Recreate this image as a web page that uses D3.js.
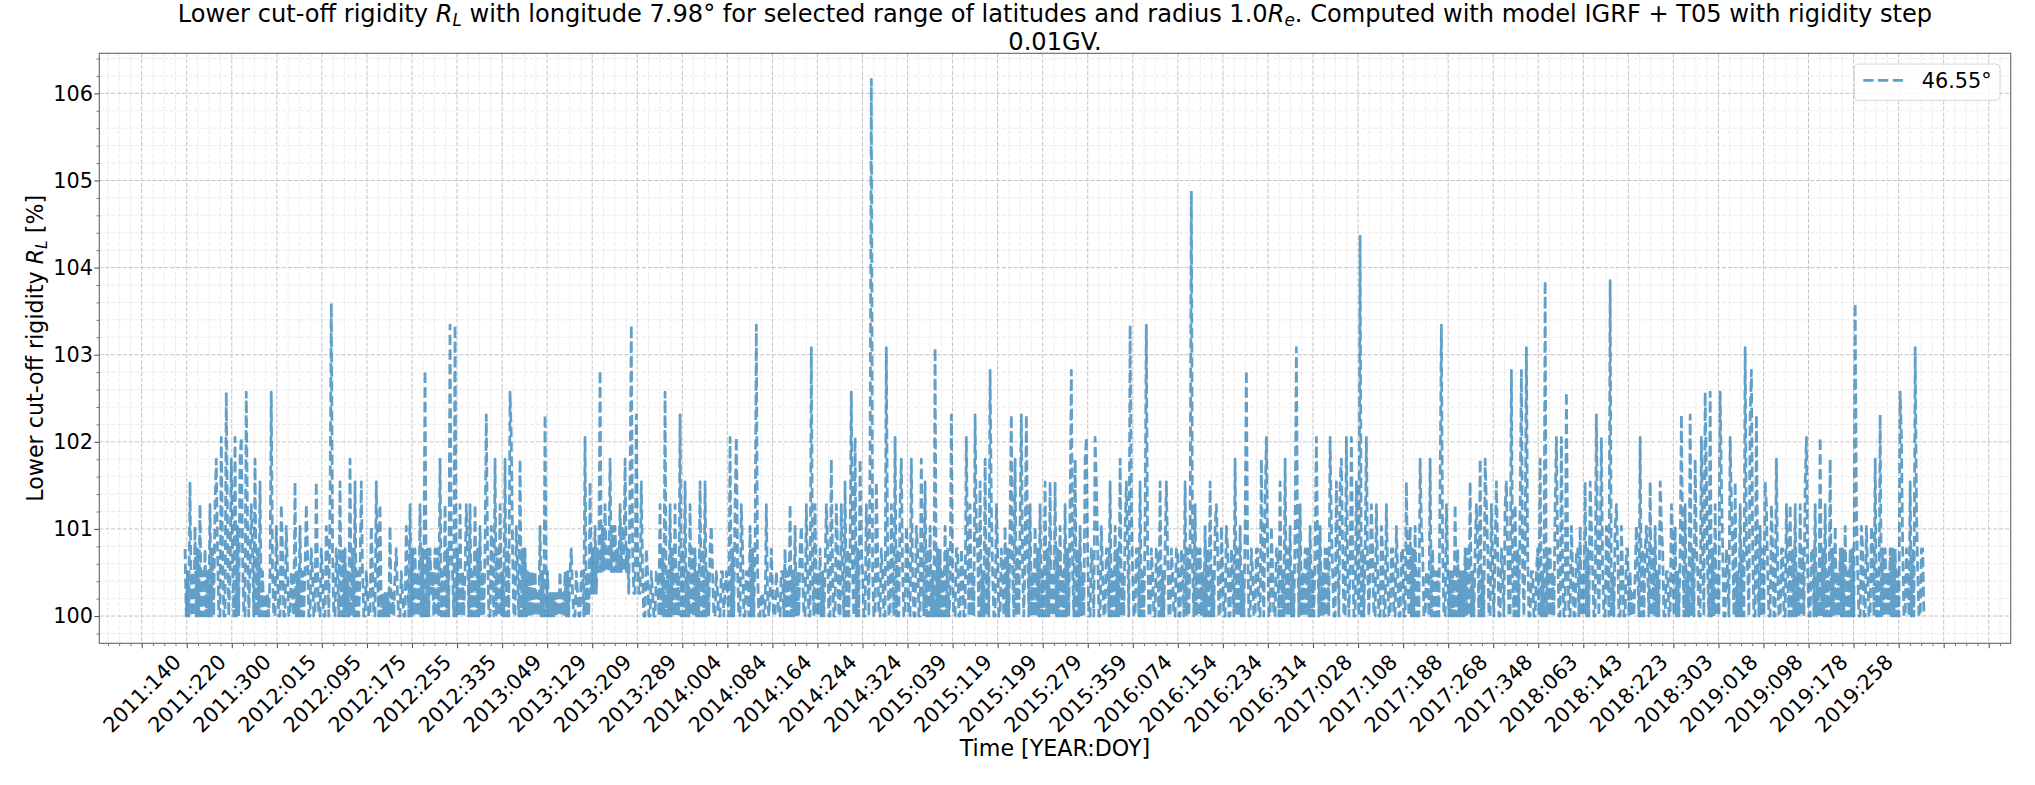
<!DOCTYPE html>
<html><head><meta charset="utf-8">
<script src="https://cdn.jsdelivr.net/npm/d3@7"></script>
<style>
body{margin:0;background:#fff}
svg text{font-family:"DejaVu Sans",sans-serif;fill:#000}
</style>
</head><body>
<svg id="chart" width="2035" height="785"></svg>
<script>
// ---------- data ----------
const tickLabels = ["2011:140","2011:220","2011:300","2012:015","2012:095","2012:175","2012:255","2012:335",
  "2013:049","2013:129","2013:209","2013:289","2014:004","2014:084","2014:164","2014:244","2014:324",
  "2015:039","2015:119","2015:199","2015:279","2015:359","2016:074","2016:154","2016:234","2016:314",
  "2017:028","2017:108","2017:188","2017:268","2017:348","2018:063","2018:143","2018:223","2018:303",
  "2019:018","2019:098","2019:178","2019:258"];
const tickStepDays = 80;          // one labelled tick every 80 days (day 0 = 2011:140)
const lastTickDay = 3280;
const yTicks = [100,101,102,103,104,105,106];
const seriesName = "46.55°";
const startDay = 76.9;            // first sample (days after 2011:140)
const stepDays = 2.22;            // sampling step of the values below

const part1 = [100.77,100,100.51,100, 101.54,100,100.51,100, 101.03,100,100.77,100, 101.28,100,100.51,100,
100.77,100,100.51,100, 101.28,100,100.77,100, 101.28,101.8,100.77,100, 100,102.05,100.77,100,
100,102.57,101.03,100, 100.51,101.8,100.77,100, 102.05,100,101.03,100, 101.8,102.05,100.77,100,
100,102.57,101.03,100, 100.51,101.28,100.77,100, 101.8,100,100.77,100, 101.54,100,100.51,100,
100.26,100,100.26,100, 100.51,102.57,100.51,100, 100,101.03,100.51,100, 100,101.28,100.77,100,
100,101.03,100.51,100, 100,100.51,100.26,100, 101.54,100,100.51,100, 101.03,100,100.51,100,
100.51,101.28,100.77,100, 100,100.77,100.51,100, 100,101.54,100.51,100, 100,100.77,100.51,100,
100,101.03,100.77,100, 101.28,103.59,100.77,100, 100,100.77,100.51,100, 101.54,100,100.77,100,
100.77,100,100.51,100, 101.8,100,100.77,100, 101.54,100,100.51,100, 100.51,101.54,100.51,100,
100,100.51,100.26,100, 100,101.03,100.51,100, 100,101.54,100.51,100, 101.28,100,100.26,100,
100.26,100,100.26,100, 101.03,100,100.26,100, 100.51,100.77,100.26,100, 100,100.51,100.26,100,
100,101.03,100.51,100, 101.28,100,100.77,100, 100.77,100,100.51,100, 101.28,100,100.77,100,
102.82,100,100.77,100, 100.77,100.26,100.51,100, 100.77,100,100.77,100, 101.8,100,100.51,100,
101.28,100,100.77,100, 103.34,100.77,100.51,100, 103.34,100,100.77,100, 101.28,100,100.51,100,
100.51,101.28,100.77,100];
const part2 = [101.28,100,100.51,100, 101.28,100,100.77,100, 101.03,100,100.51,100, 100.77,102.31,100.77,100,
100,101.03,100.51,100, 101.8,100,100.77,100, 101.28,100,100.51,100, 101.8,100,100.77,100,
102.57,102.05,100.77,100, 100,101.03,100.51,100, 101.8,100,100.77,100, 100.77,100,100.51,100,
100.51,100,100.51,100, 100.51,100,100.26,100, 101.03,100,100.51,100, 102.31,100,100.51,100,
100.26,100,100.26,100, 100.26,100,100.26,100, 100.51,100,100.26,100, 100.51,100,100.51,100,
100.51,100.77,100.26,100, 100,100.51,100.26,100, 100,100.51,100.51,100, 102.05,100,100.51,100,
101.54,100.26,100.77,100.26, 101.03,100.26,100.77,100.51, 102.82,100.51,101.03,100.51, 101.28,100.51,100.77,100.51,
101.8,100.51,101.03,100.51, 101.03,100.51,100.77,100.51, 101.28,100.51,101.03,100.51, 101.8,100.51,100.77,100.26,
101.54,103.34,100.77,100.26, 100.26,102.31,100.77,100.26, 100.26,101.54,100.51,100, 100,100.77,100.51,100,
100,100.51,100.26,100, 100,100.51,100.51,100, 101.28,100,100.77,100, 102.57,100,100.51,100,
101.28,100,100.77,100, 101.28,100,100.51,100, 102.31,100,100.77,100, 101.54,100,100.51,100,
101.28,100,100.77,100, 100.77,100,100.51,100, 101.54,100,100.77,100, 101.54,100,100.51,100,
100.77,101.03,100.51,100, 100,100.51,100.26,100, 100,100.51,100.51,100, 100.26,100.51,100.26,100,
102.05,100,100.77,100, 101.28,102.05,100.51,100, 100,101.28,100.77,100, 100,100.51,100.51,100,
101.03,100,100.77,100, 100.77,103.34,100.51,100];
const part3 = [100,100.26,100.26,100, 100,101.28,100.26,100, 100.26,100.77,100.26,100, 100,100.51,100.26,100,
100,100.51,100.51,100, 100.77,100,100.51,100, 101.28,100,100.51,100, 101.03,100,100.51,100,
100.77,101.03,100.51,100, 100,101.28,100.51,100, 100,103.08,100.51,100, 101.28,100,100.51,100,
100.77,100,100.51,100, 100.51,101.28,100.77,100, 100,101.8,100.51,100, 100,101.28,100.77,100,
100,101.28,100.51,100, 101.54,100,100.77,100, 100.77,102.57,100.51,100, 102.05,100,100.77,100,
101.8,100.77,100.51,100, 100,101.28,100.77,100, 101.8,106.16,100.51,100, 100,101.54,100.77,100,
100,100.77,100.51,100, 100,103.08,100.77,100, 100,101.28,100.51,100, 102.05,100,100.77,100,
101.28,101.8,100.51,100, 100,101.03,100.77,100, 100,101.8,100.51,100, 100,101.03,100.77,100,
100,101.8,100.51,100, 101.54,100,100.77,100, 101.03,100,100.51,100, 103.08,100,100.77,100,
100.77,100,100.51,100, 101.03,100,100.77,100, 100.26,102.31,100.51,100, 100,100.77,100.77,100,
100,100.77,100.51,100, 100,102.05,100.77,100, 101.28,100,100.51,100, 102.31,101.03,100.77,100,
101.54,100,100.51,100, 101.8,100,100.77,100, 102.82,101.28,100.51,100, 100,101.28,100.77,100,
100,100.77,100.51,100, 101.03,100,100.77,100, 101.03,102.31,100.51,100, 101.8,100,100.77,100,
101.03,102.31,100.51,100, 100.77,102.31,100.77,100, 101.28,100,100.51,100, 101.03,100,100.77,100,
101.28,100,100.51,100, 101.54,100,100.77,100];
const part4 = [101.54,100,100.51,100, 101.54,100,100.77,100, 101.03,100,100.51,100, 101.28,100,100.77,100,
101.28,102.82,100.51,100, 101.8,100,100.77,100, 101.03,100,100.51,100, 101.8,102.05,100.77,100,
100,100.77,100.51,100, 102.05,101.54,100.77,100, 100,101.03,100.51,100, 100,100.77,100.77,100,
101.54,100,100.51,100, 101.03,100,100.77,100, 101.8,100,100.51,100, 101.03,101.54,100.77,100,
103.34,101.28,100.51,100, 100,100.77,100.77,100, 101.54,100,100.51,100, 101.03,103.34,100.77,100,
100,100.77,100.51,100, 100,100.77,100.77,100, 101.54,100,100.51,100, 100.77,101.54,100.77,100,
100,100.77,100.51,100, 100,100.77,100.77,100, 100,100.77,100.51,100, 101.54,100,100.77,100,
100.77,104.88,100.51,100, 101.28,100,100.77,100, 100.77,100,100.51,100, 101.03,100,100.77,100,
101.54,100,100.51,100, 101.03,101.28,100.77,100, 100,101.03,100.51,100, 100,101.03,100.77,100,
100,100.77,100.51,100, 101.8,100,100.77,100, 101.03,100,100.51,100, 101.03,102.82,100.77,100,
100,100.77,100.51,100, 100,100.77,100.77,100, 100,101.8,100.51,100, 101.28,102.05,100.77,100,
100,101.03,100.51,100, 100,100.77,100.77,100, 101.54,100,100.51,100, 101.8,100,100.77,100,
101.03,100,100.51,100, 101.03,103.08,100.77,100, 101.28,100,100.51,100, 100.77,100,100.77,100,
101.03,100,100.51,100, 100.77,102.05,100.77,100, 101.03,100,100.51,100, 100.77,100,100.77,100,
102.05,101.03,100.51,100, 100,101.54,100.77,100];
const part5 = [101.54,101.8,100.77,100, 100,102.05,100.51,100, 100.51,102.05,100.77,100, 100,101.54,100.51,100,
104.36,100,100.77,100, 100.77,102.05,100.51,100, 100.51,101.28,100.77,100, 100,101.28,100.51,100,
100,101.03,100.77,100, 100,101.28,100.51,100, 100,100.77,100.77,100, 100,101.03,100.51,100,
100,100.77,100.77,100, 100,101.54,100.51,100, 101.03,100,100.77,100, 101.03,100,100.51,100,
101.8,101.03,100.77,100, 100,100.51,100.51,100, 101.8,100,100.77,100, 100.51,100,100.51,100,
101.54,103.34,100.77,100, 100,101.28,100.51,100, 100.51,100,100.51,100, 101.28,100,100.77,100,
100.51,100,100.51,100, 100.77,100,100.77,100, 101.54,100,100.51,100, 100.77,101.28,100.77,100,
101.8,100,100.51,100, 101.8,101.28,100.77,100, 100,101.28,100.51,100, 100.77,101.54,100.77,100,
100,100.77,100.51,100, 101.28,101.54,100.77,100, 100,102.82,100.51,100, 101.28,100,100.77,100,
101.28,102.82,100.51,100, 100.77,103.08,100.77,100, 100,100.51,100.51,100, 100,100.51,100.77,100,
101.8,100,100.51,100, 103.85,100,100.77,100, 100.77,100,100.51,100, 101.28,102.05,100.77,100,
100,102.05,100.51,100, 100,102.57,100.77,100, 100,101.03,100.51,100, 100,100.77,100.77,100,
101.03,100,100.51,100, 101.54,100,100.77,100, 101.54,101.03,100.51,100, 100,102.31,100.77,100,
100.77,102.05,100.51,100, 100,101.03,100.77,100, 103.85,100,100.51,100, 101.03,101.28,100.77,100,
100,101.03,100.51,100, 100,100.77,100.77,100];
const part6 = [100.51,100,100.26,100, 100.51,101.03,100.51,100, 102.05,100,100.77,100, 100.77,101.03,100.51,100,
101.54,100,100.77,100, 101.03,100,100.51,100, 101.54,101.03,100.77,100, 100,100.51,100.51,100,
100,101.28,100.77,100, 101.03,100,100.51,100, 100.77,102.31,100.77,100, 101.28,100,100.51,100,
102.31,100,100.77,100, 101.8,100.77,100.51,100, 100,102.05,100.77,100, 102.57,101.54,100.51,100,
102.57,100,100.77,100, 101.28,100,100.51,100, 102.57,101.54,100.77,100, 100,100.77,100.51,100,
102.05,101.28,100.77,100, 101.54,100,100.51,100, 101.28,100,100.77,100, 103.08,100.77,100.51,100,
102.31,102.82,100.77,100, 100,102.31,100.51,100, 101.03,100,100.77,100, 101.54,101.28,100.51,100,
100,101.28,100.77,100, 100,101.8,100.51,100, 100,100.77,100.77,100, 100,101.28,100.51,100,
101.28,100,100.77,100, 101.28,100,100.51,100, 101.28,100,100.77,100, 101.54,102.05,100.51,100,
100,100.77,100.77,100, 101.28,100,100.51,100, 102.05,100,100.77,100, 101.28,100,100.51,100,
101.8,100,100.77,100, 101.03,100,100.51,100, 100.77,100,100.77,100, 101.03,100,100.51,100,
100.77,100,100.77,100, 103.59,101.28,100.51,100, 100,101.03,100.77,100, 100,101.03,100.51,100,
100,101.03,100.77,100, 101.8,100,100.51,100, 102.31,100,100.77,100, 100.77,100,100.51,100,
100.77,100,100.77,100, 100.77,100,100.51,100, 102.57,102.05,100.77,100, 100,100.77,100.51,100,
101.54,100,100.77,100, 103.08,101.28,100.51,100, 100,100.77,100.77,100];

// ---------- layout ----------
const W = 2035, H = 785;
const plot = {left: 99.3, right: 2010.7, top: 53.3, bottom: 643.3};
const FS = 20.8;        // tick labels, legend
const FS_LABEL = 22.2;  // axis labels
const FS_TITLE = 24.1;  // title
const lineColor = "#1f77b4";

const svg = d3.select("#chart");
svg.append("rect").attr("width", W).attr("height", H).attr("fill", "#fff");

const x = d3.scaleLinear().domain([-75.3, 3319]).range([plot.left, plot.right]);
const y = d3.scaleLinear().domain([99.687, 106.46]).range([plot.bottom, plot.top]);

const majorX = d3.range(0, lastTickDay + 1, tickStepDays);
const minorX = d3.range(-60, 3319, tickStepDays / 4).filter(d => d % tickStepDays !== 0);
const minorY = d3.range(99.8, 106.46, 0.2).map(v => +v.toFixed(1)).filter(v => Math.abs(v - Math.round(v)) > 1e-6);

// grid
const grid = svg.append("g");
grid.selectAll(".gxm").data(minorX).join("line")
  .attr("x1", d => x(d)).attr("x2", d => x(d)).attr("y1", plot.top).attr("y2", plot.bottom)
  .attr("stroke", "#e6e6e6").attr("stroke-width", 0.8).attr("stroke-dasharray", "4.1,1.8");
grid.selectAll(".gym").data(minorY).join("line")
  .attr("x1", plot.left).attr("x2", plot.right).attr("y1", d => y(d)).attr("y2", d => y(d))
  .attr("stroke", "#e6e6e6").attr("stroke-width", 0.8).attr("stroke-dasharray", "4.1,1.8");
grid.selectAll(".gx").data(majorX).join("line")
  .attr("x1", d => x(d)).attr("x2", d => x(d)).attr("y1", plot.top).attr("y2", plot.bottom)
  .attr("stroke", "#c4c4c4").attr("stroke-width", 1).attr("stroke-dasharray", "4.1,1.8");
grid.selectAll(".gy").data(yTicks).join("line")
  .attr("x1", plot.left).attr("x2", plot.right).attr("y1", d => y(d)).attr("y2", d => y(d))
  .attr("stroke", "#c4c4c4").attr("stroke-width", 1).attr("stroke-dasharray", "4.1,1.8");

// data line
const values = [].concat(part1, part2, part3, part4, part5, part6);
const data = values.map((v, i) => ({day: startDay + i * stepDays, v}));
svg.append("path").datum(data)
  .attr("d", d3.line().x(d => x(d.day)).y(d => y(d.v)))
  .attr("fill", "none").attr("stroke", lineColor).attr("stroke-opacity", 0.7)
  .attr("stroke-width", 2.78).attr("stroke-dasharray", "10.28,4.44")
  .attr("stroke-linejoin", "round").attr("stroke-linecap", "butt");

// axes
const axisColor = "#555";
const gx = svg.append("g").attr("transform", `translate(0,${plot.bottom})`)
  .call(d3.axisBottom(x).tickValues(majorX).tickSize(4.9).tickFormat((d, i) => tickLabels[i] || ""));
gx.select(".domain").remove();
gx.selectAll(".tick line").attr("stroke", axisColor).attr("stroke-width", 1.1);
gx.selectAll(".tick text")
  .attr("font-size", FS).attr("font-family", "DejaVu Sans").attr("fill", "#000")
  .attr("y", 0).attr("dy", null).attr("text-anchor", "middle").attr("dominant-baseline", "central")
  .attr("transform", "translate(0,50.3) rotate(-45)");
const gxm = svg.append("g").attr("transform", `translate(0,${plot.bottom})`)
  .call(d3.axisBottom(x).tickValues(minorX).tickSize(2.8).tickFormat(""));
gxm.select(".domain").remove();
gxm.selectAll(".tick line").attr("stroke", axisColor).attr("stroke-width", 0.8);

const gy = svg.append("g").attr("transform", `translate(${plot.left},0)`)
  .call(d3.axisLeft(y).tickValues(yTicks).tickSize(4.9).tickPadding(1.4).tickFormat(d3.format("d")));
gy.select(".domain").remove();
gy.selectAll(".tick line").attr("stroke", axisColor).attr("stroke-width", 1.1);
gy.selectAll(".tick text").attr("font-size", FS).attr("font-family", "DejaVu Sans").attr("fill", "#000");
const gym = svg.append("g").attr("transform", `translate(${plot.left},0)`)
  .call(d3.axisLeft(y).tickValues(minorY).tickSize(2.8).tickFormat(""));
gym.select(".domain").remove();
gym.selectAll(".tick line").attr("stroke", axisColor).attr("stroke-width", 0.8);

// frame
svg.append("rect").attr("x", plot.left).attr("y", plot.top)
  .attr("width", plot.right - plot.left).attr("height", plot.bottom - plot.top)
  .attr("fill", "none").attr("stroke", "#666").attr("stroke-width", 1.1);

// title
const cx = (plot.left + plot.right) / 2;
const sub = 0.2;
const t1 = svg.append("text").attr("x", cx).attr("y", 21.5).attr("text-anchor", "middle").attr("font-size", FS_TITLE);
t1.append("tspan").text("Lower cut-off rigidity ");
t1.append("tspan").attr("font-style", "italic").text("R");
t1.append("tspan").attr("font-style", "italic").attr("font-size", FS_TITLE * 0.7).attr("dy", FS_TITLE * sub).text("L");
t1.append("tspan").attr("dy", -FS_TITLE * sub).text(" with longitude 7.98° for selected range of latitudes and radius 1.0");
t1.append("tspan").attr("font-style", "italic").text("R");
t1.append("tspan").attr("font-style", "italic").attr("font-size", FS_TITLE * 0.7).attr("dy", FS_TITLE * sub).text("e");
t1.append("tspan").attr("dy", -FS_TITLE * sub).text(". Computed with model IGRF + T05 with rigidity step");
svg.append("text").attr("x", cx).attr("y", 50).attr("text-anchor", "middle").attr("font-size", FS_TITLE).text("0.01GV.");

// axis labels
svg.append("text").attr("x", cx).attr("y", 756).attr("text-anchor", "middle").attr("font-size", FS_LABEL).text("Time [YEAR:DOY]");
const yl = svg.append("text").attr("transform", `translate(42.7,${(plot.top + plot.bottom) / 2}) rotate(-90)`)
  .attr("text-anchor", "middle").attr("font-size", FS_LABEL);
yl.append("tspan").text("Lower cut-off rigidity ");
yl.append("tspan").attr("font-style", "italic").text("R");
yl.append("tspan").attr("font-style", "italic").attr("font-size", FS_LABEL * 0.7).attr("dy", FS_LABEL * sub).text("L");
yl.append("tspan").attr("dy", -FS_LABEL * sub).text(" [%]");

// legend
const lg = svg.append("g");
lg.append("rect").attr("x", 1854.3).attr("y", 64).attr("width", 145.7).attr("height", 36.3).attr("rx", 4)
  .attr("fill", "#fff").attr("fill-opacity", 0.8).attr("stroke", "#d6d6d6").attr("stroke-width", 1);
lg.append("line").attr("x1", 1863.3).attr("x2", 1903.3).attr("y1", 80.3).attr("y2", 80.3)
  .attr("stroke", lineColor).attr("stroke-opacity", 0.7).attr("stroke-width", 2.78).attr("stroke-dasharray", "10.28,4.44");
lg.append("text").attr("x", 1921.7).attr("y", 87.7).attr("font-size", FS).text(seriesName);
</script>
</body></html>
